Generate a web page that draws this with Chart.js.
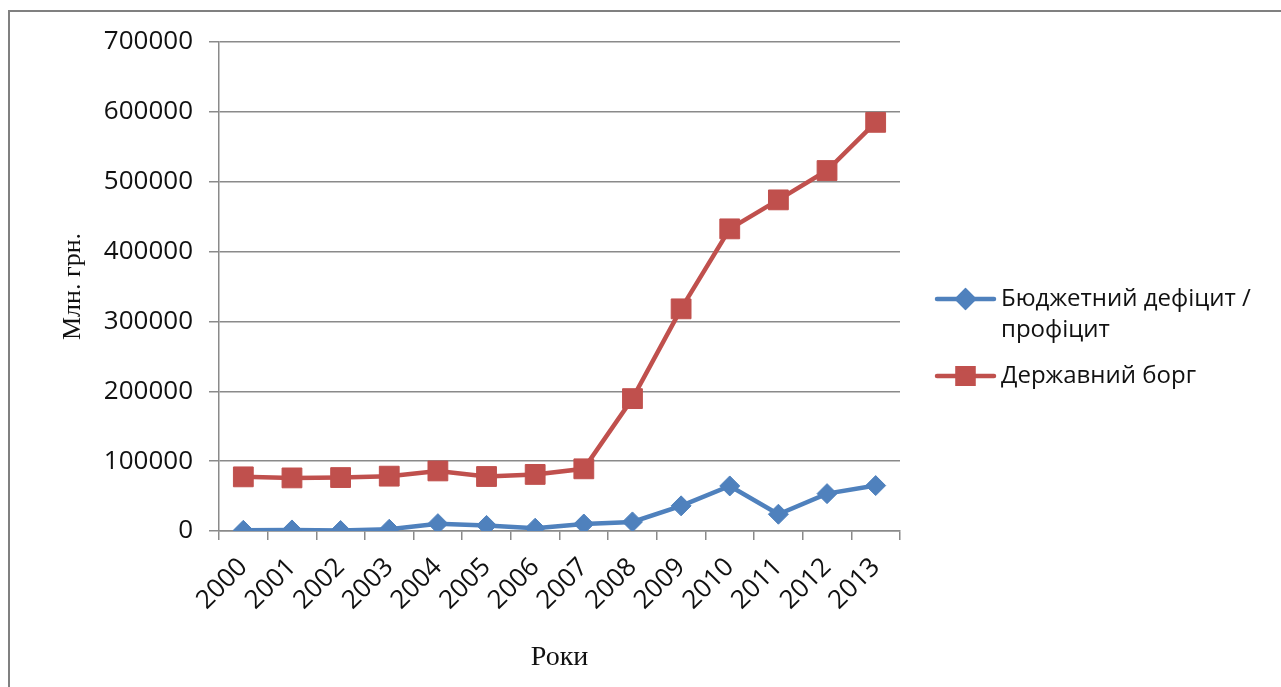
<!DOCTYPE html>
<html lang="uk">
<head>
<meta charset="utf-8">
<title>Бюджетний дефіцит / профіцит і державний борг, 2000–2013</title>
<script src="https://cdn.jsdelivr.net/npm/chart.js@4/dist/chart.umd.min.js"></script>
<style>
  html, body { margin: 0; padding: 0; background: #fff; }
  #chart { display: block; }
</style>
</head>
<body>
<canvas id="chart" width="1281" height="687"></canvas>
<script>
// Роки
const years = ['2000', '2001', '2002', '2003', '2004', '2005', '2006',
               '2007', '2008', '2009', '2010', '2011', '2012', '2013'];

// Бюджетний дефіцит / профіцит, млн грн
const budgetBalance = [1000, 1500, 700, 2500, 10500, 8000, 4000,
                       10000, 13000, 36000, 64500, 24000, 53500, 65000];

// Державний борг, млн грн
const publicDebt = [77500, 76000, 76500, 78500, 86000, 78000, 81000,
                    89000, 189500, 318000, 432500, 474000, 516000, 585000];

const seriesNames = ['Бюджетний дефіцит / профіцит', 'Державний борг'];
const yTicks = [0, 100000, 200000, 300000, 400000, 500000, 600000, 700000];

const BLUE = '#4F81BD';
const RED = '#C0504D';
const GRID = '#8a8a8a';
const SANS = '"Open Sans", "Noto Sans", "DejaVu Sans", sans-serif';
const SERIF = '"Liberation Serif", "DejaVu Serif", serif';

// Legend on the right, with wrapped labels and line+marker swatches
const sideLegend = {
  id: 'sideLegend',
  afterDraw(chart) {
    const ctx = chart.ctx;
    const x0 = 937, x1 = 994, textX = 1001, maxW = 280;
    const rows = [299, 376];
    ctx.save();
    ctx.font = '24px ' + SANS;
    ctx.textBaseline = 'middle';
    ctx.textAlign = 'left';
    chart.data.datasets.forEach((ds, i) => {
      const y = rows[i];
      ctx.strokeStyle = ds.borderColor;
      ctx.lineWidth = 4.5;
      ctx.lineCap = 'round';
      ctx.beginPath();
      ctx.moveTo(x0, y);
      ctx.lineTo(x1, y);
      ctx.stroke();
      Chart.helpers.drawPoint(ctx, {
        pointStyle: ds.pointStyle,
        radius: ds.pointStyle === 'rect' ? 11 : 8,
        borderWidth: 1
      }, (x0 + x1) / 2, y);
      ctx.fillStyle = ds.backgroundColor;
      ctx.strokeStyle = ds.borderColor;
      ctx.fill();
      ctx.stroke();

      // wrap label to the available width
      const words = ds.label.split(' ');
      const lines = [];
      let cur = '';
      words.forEach(w => {
        const t = cur ? cur + ' ' + w : w;
        if (ctx.measureText(t).width > maxW && cur) { lines.push(cur); cur = w; }
        else cur = t;
      });
      lines.push(cur);
      ctx.fillStyle = '#111';
      lines.forEach((ln, k) => ctx.fillText(ln, textX, y + k * 31));
    });
    ctx.restore();
  }
};

// Outer frame of the chart object
const frame = {
  id: 'frame',
  afterDraw(chart) {
    const ctx = chart.ctx;
    ctx.save();
    ctx.strokeStyle = '#808080';
    ctx.lineWidth = 2;
    ctx.beginPath();
    ctx.moveTo(9, chart.height + 5);
    ctx.lineTo(9, 11);
    ctx.lineTo(chart.width + 5, 11);
    ctx.stroke();
    ctx.restore();
  }
};

new Chart(document.getElementById('chart'), {
  type: 'line',
  data: {
    labels: years,
    datasets: [
      {
        label: seriesNames[0],
        data: budgetBalance,
        borderColor: BLUE,
        backgroundColor: BLUE,
        borderWidth: 4.5,
        pointStyle: 'rectRot',
        pointRadius: 10,
        pointBorderWidth: 1,
        tension: 0
      },
      {
        label: seriesNames[1],
        data: publicDebt,
        borderColor: RED,
        backgroundColor: RED,
        borderWidth: 4.5,
        pointStyle: 'rect',
        pointRadius: 14,
        pointBorderWidth: 1,
        tension: 0
      }
    ]
  },
  options: {
    responsive: false,
    devicePixelRatio: 1,
    animation: false,
    layout: { padding: { top: 42, right: 381, bottom: 0, left: 0 } },
    plugins: {
      legend: { display: false },
      tooltip: { enabled: false }
    },
    scales: {
      x: {
        offset: true,
        afterFit: s => { s.height = 156; },
        grid: {
          offset: true,
          drawOnChartArea: false,
          drawTicks: true,
          tickLength: 9,
          color: GRID,
          lineWidth: 1.5
        },
        border: { color: GRID, width: 1.5 },
        ticks: {
          minRotation: 45,
          maxRotation: 45,
          autoSkip: false,
          padding: 12,
          color: '#111',
          font: { family: SANS, size: 26 }
        },
        title: {
          display: true,
          text: 'Роки',
          color: '#111',
          font: { family: SERIF, size: 28 },
          padding: { top: 0, bottom: 13 }
        }
      },
      y: {
        min: 0,
        max: 700000,
        afterFit: s => { s.width = 219; },
        afterBuildTicks: s => { s.ticks = yTicks.map(v => ({ value: v })); },
        grid: {
          color: GRID,
          lineWidth: 1.5,
          drawTicks: true,
          tickLength: 10,
        },
        border: { color: GRID, width: 1.5 },
        ticks: {
          padding: 16,
          color: '#111',
          font: { family: SANS, size: 26 },
          callback: v => String(v)
        },
        title: {
          display: true,
          text: 'Млн. грн.',
          color: '#111',
          font: { family: SERIF, size: 26 },
          padding: { top: 58, bottom: 0 }
        }
      }
    }
  },
  plugins: [sideLegend, frame]
});
</script>
</body>
</html>
